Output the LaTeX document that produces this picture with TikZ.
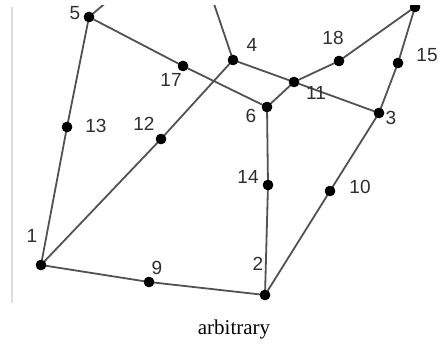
\documentclass[tikz,border=0pt]{standalone}
\usepackage{fontspec}
\setmainfont{Liberation Serif}
\newfontfamily\labfont{Liberation Sans}
\begin{document}
\begin{tikzpicture}[x=1pt,y=-1pt,
  vtx/.style={circle,fill=black,inner sep=0pt,minimum size=10.5pt},
  edge/.style={draw=black!68,line width=1.8pt},
  lab/.style={font=\labfont\fontsize{19}{19}\selectfont,text=black!82,inner sep=0pt}]
\useasboundingbox (0,0) rectangle (446,350);
\draw[black!13,line width=1.3pt] (12,7) -- (12,303);
\begin{scope}
\clip (13,6) rectangle (446,350);
\coordinate (t5) at (115,-5);
\coordinate (t4) at (211,-5);
\node[vtx] (n1) at (41,265) {};
\node[vtx] (n2) at (265,295) {};
\node[vtx] (n3) at (379,113) {};
\node[vtx] (n4) at (233,60) {};
\node[vtx] (n5) at (89,17) {};
\node[vtx] (n6) at (267,107) {};
\node[vtx] (n9) at (149,282) {};
\node[vtx] (n10) at (330,191) {};
\node[vtx] (n11) at (294,82) {};
\node[vtx] (n12) at (161,139) {};
\node[vtx] (n13) at (67,127) {};
\node[vtx] (n14) at (268,185) {};
\node[vtx] (n15) at (398,63) {};
\node[vtx] (n16) at (415,7) {};
\node[vtx] (n17) at (183,66) {};
\node[vtx] (n18) at (339,61) {};
\draw[edge] (n5.center) -- (t5);
\draw[edge] (n4.center) -- (t4);
\draw[edge] (n5.center) -- (n13.center) -- (n1.center);
\draw[edge] (n1.center) -- (n12.center) -- (n4.center);
\draw[edge] (n1.center) -- (n9.center) -- (n2.center);
\draw[edge] (n2.center) -- (n14.center) -- (n6.center);
\draw[edge] (n2.center) -- (n10.center) -- (n3.center);
\draw[edge] (n3.center) -- (n15.center) -- (n16.center);
\draw[edge] (n16.center) -- (n18.center) -- (n11.center) -- (n6.center);
\draw[edge] (n4.center) -- (n11.center) -- (n3.center);
\draw[edge] (n5.center) -- (n17.center) -- (n6.center);
\foreach \n in {1,2,3,4,5,6,9,10,11,12,13,14,15,16,17,18}
  \fill (n\n) circle (5.2pt);
\end{scope}
\node[lab] (l1) at (32,236) {1};
\node[lab] (l2) at (258,264) {2};
\node[lab] (l3) at (391,118) {3};
\node[lab] (l4) at (252,45) {4};
\node[lab] (l5) at (75,13) {5};
\node[lab] (l6) at (251,116) {6};
\node[lab] (l9) at (157,268) {9};
\node[lab] (l10) at (360,187) {10};
\node[lab] (l11) at (316,93) {11};
\node[lab] (l12) at (144,124) {12};
\node[lab] (l13) at (96,126) {13};
\node[lab] (l14) at (248,177) {14};
\node[lab] (l15) at (427,55) {15};
\node[lab] (l17) at (171,80) {17};
\node[lab] (l18) at (333,38) {18};
\node[font=\fontsize{21}{21}\selectfont,anchor=base,inner sep=0pt] (cap) at (234,334) {arbitrary};
\end{tikzpicture}
\end{document}
